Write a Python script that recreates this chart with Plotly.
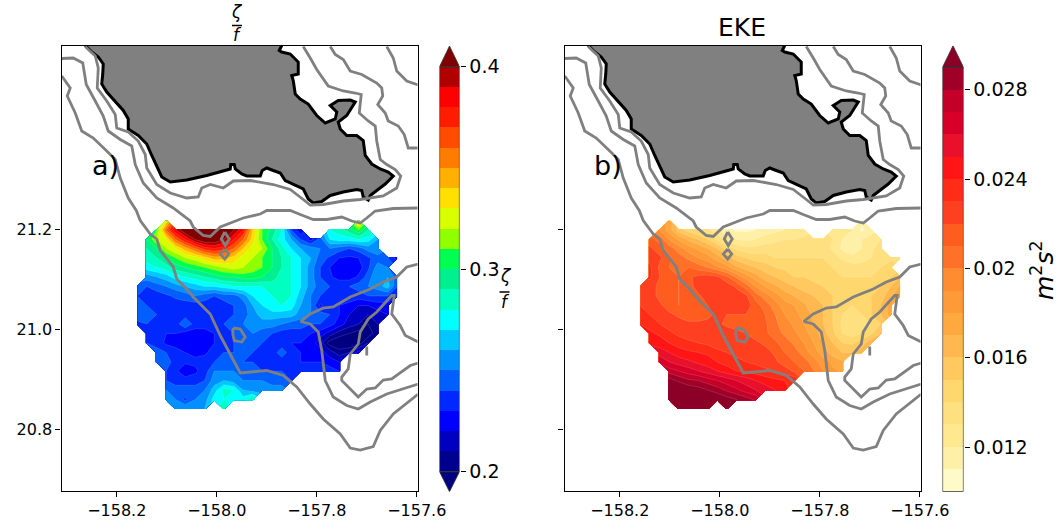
import plotly.graph_objects as go

W, H = 1060, 524

lon_grid = [-158.159,-158.140,-158.120,-158.101,-158.082,-158.063,-158.043,-158.024,-158.005,-157.986,
            -157.966,-157.947,-157.928,-157.909,-157.889,-157.870,-157.851,-157.832,-157.812,-157.793,
            -157.774,-157.755,-157.735,-157.716,-157.697,-157.678,-157.658,-157.639]
lat_grid = [21.218,21.199,21.180,21.162,21.143,21.124,21.105,21.086,21.067,21.048,21.030,
            21.011,20.992,20.973,20.954,20.935,20.917,20.898,20.879,20.860,20.841]
row_start = [3,2,1,1,1,1,1,0,0,0,0,0,1,1,2,2,3,3,3,3,4]

zeta_rows = [
 [.33]+[None]*19+[.345],
 [.31,.36,.39,.41,.42,.42,.42,.41,.40,.38,.34,.31,.295,.28,.24,.222,None,None,.28,.285,.295,.31,.29],
 [.30,.32,.33,.36,.38,.40,.41,.41,.40,.38,.36,.335,.31,.29,.275,.26,.24,.226,.245,.27,.275,.275,.28,.275,.26],
 [.29,.30,.32,.33,.345,.36,.375,.38,.375,.36,.34,.325,.32,.30,.285,.27,.26,.255,.25,.25,.245,.24,.245,.255,.26],
 [.285,.29,.30,.31,.32,.325,.335,.345,.345,.335,.325,.32,.31,.30,.29,.28,.27,.26,.245,.238,.23,.228,.23,.238,.245,.24,.225],
 [.275,.28,.285,.295,.30,.305,.31,.315,.32,.325,.32,.315,.31,.30,.29,.28,.27,.255,.24,.23,.225,.224,.225,.238,.255,.25],
 [.255,.26,.265,.275,.28,.285,.29,.295,.30,.30,.305,.305,.30,.295,.285,.28,.27,.255,.24,.232,.225,.225,.232,.245,.26,.26,.245],
 [.245,.24,.245,.25,.255,.26,.265,.27,.27,.275,.28,.28,.28,.28,.285,.285,.28,.27,.255,.245,.24,.24,.24,.245,.25,.255,.265,.24],
 [.24,.235,.235,.238,.242,.245,.25,.245,.24,.245,.245,.255,.27,.275,.28,.286,.28,.265,.25,.24,.24,.24,.24,.235,.24,.24,.24,.23],
 [.245,.24,.235,.232,.235,.235,.235,.235,.235,.235,.24,.245,.26,.27,.28,.28,.275,.26,.25,.228,.235,.23,.225,.22,.22,.225,.225],
 [.25,.245,.24,.235,.235,.235,.24,.235,.235,.24,.24,.245,.255,.265,.265,.265,.265,.255,.25,.245,.24,.23,.22,.215,.21,.215,.22],
 [.235,.24,.235,.235,.235,.25,.235,.235,.235,.24,.245,.25,.255,.255,.255,.25,.245,.245,.24,.24,.235,.225,.215,.21,.20,.21],
 [.235,.235,.23,.23,.225,.225,.225,.23,.235,.24,.245,.25,.245,.24,.235,.235,.235,.23,.225,.215,.205,.20,.195,.195,.205],
 [.24,.235,.228,.225,.225,.225,.222,.23,.235,.24,.245,.245,.24,.235,.235,.23,.23,.225,.215,.195,.19,.19,.195,.21],
 [.245,.24,.235,.23,.228,.228,.235,.24,.24,.245,.24,.235,.235,.245,.235,.23,.23,.225,.215,.205,.21,.225],
 [.25,.245,.235,.232,.232,.235,.24,.245,.245,.24,.24,.235,.235,.235,.235,.23,.23,.23,.225,.22],
 [.24,.232,.222,.228,.235,.25,.25,.25,.245,.245,.24,.24,.24,.24,.235,.235,.235,.235,.23],
 [.24,.235,.235,.235,.24,.255,.26,.255,.25,.25,.25,.245,.245,.24],
 [.25,.245,.245,.245,.25,.265,.283,.28,.26,.255,.255,.255,.255],
 [.26,.25,.238,.25,.255,.275,.28,.27,.275,.29],
 [.26,.26,.26,.26,None,.29],
]

eke_rows = [
 [.0175]+[None]*19+[.0112],
 [.019,.0175,.0155,.0145,.014,.0132,.0122,.0112,.0108,.0108,.011,.0113,.0117,.012,.0122,.0125,None,None,.0128,.0125,.012,.0108,.0115],
 [.0215,.0205,.019,.0178,.0168,.016,.015,.0138,.0125,.012,.0118,.012,.0125,.0127,.013,.013,.0132,.0135,.0135,.013,.012,.0118,.012,.0125,.013],
 [.0222,.0215,.0205,.0195,.0185,.0178,.017,.016,.0145,.0138,.0132,.0133,.0135,.0135,.0135,.0135,.0135,.0135,.0135,.0128,.0118,.0115,.012,.0128,.0135],
 [.0228,.0222,.0212,.0205,.0198,.019,.0185,.0175,.0165,.0155,.015,.0145,.0145,.014,.014,.014,.014,.014,.014,.0135,.0128,.0122,.0125,.013,.0135,.0138,.0135],
 [.0232,.0218,.021,.021,.021,.0205,.02,.0192,.0185,.0172,.0165,.016,.0155,.015,.0148,.0145,.0145,.0145,.0142,.014,.0138,.0135,.0135,.0135,.014,.0145],
 [.0232,.022,.0213,.021,.0218,.0223,.0225,.0222,.0212,.0198,.0185,.0175,.0165,.016,.0155,.015,.015,.0148,.0145,.0143,.014,.014,.014,.014,.0145,.015,.016],
 [.0228,.0225,.0217,.0213,.021,.0215,.0225,.0228,.0228,.0226,.0218,.0205,.019,.018,.0172,.0165,.016,.0155,.0152,.015,.0148,.0145,.0142,.0142,.0145,.015,.016,.0172],
 [.0228,.0225,.0217,.0213,.021,.0212,.0218,.0225,.0228,.0228,.0226,.0222,.0205,.0195,.0185,.0175,.017,.0165,.016,.0155,.015,.0148,.0145,.0145,.015,.0155,.0168,.0178],
 [.023,.0226,.0222,.0215,.021,.0212,.0215,.022,.0225,.0228,.0228,.0225,.0215,.0205,.0195,.0185,.018,.0172,.0165,.016,.015,.0142,.014,.0143,.015,.016,.0175],
 [.0235,.023,.0225,.0222,.0218,.0215,.0215,.0218,.0222,.022,.022,.022,.0215,.021,.02,.019,.0185,.0175,.0168,.016,.015,.014,.0135,.014,.015,.016,.0175],
 [.024,.0236,.023,.0226,.0224,.0222,.0222,.0222,.0222,.0218,.0217,.0215,.0215,.0212,.0202,.0195,.0188,.018,.017,.016,.015,.0138,.0132,.0135,.014,.015],
 [.0242,.0238,.0232,.0228,.0226,.0226,.0225,.0225,.0225,.0222,.022,.0215,.0212,.0205,.0198,.0192,.0185,.0175,.0165,.0152,.014,.0135,.014,.0148,.016],
 [.0248,.0245,.024,.0235,.0232,.023,.0228,.0226,.0226,.0226,.0225,.0222,.0218,.0212,.0205,.0198,.019,.018,.017,.016,.015,.0148,.0155,.0168],
 [.0255,.025,.0245,.0242,.024,.0238,.0232,.023,.0228,.0226,.0226,.0224,.0218,.021,.0205,.0195,.0185,.0175,.0165,.016,.016,.0165],
 [.0268,.026,.0255,.0252,.0248,.0245,.024,.0236,.0232,.023,.0228,.0226,.0222,.0215,.021,.0205,.0195,.0185,.0178,.0172],
 [.0275,.027,.0265,.026,.0255,.025,.0245,.024,.0238,.0235,.0232,.023,.0225,.0218,.021,.02,.019,.0182,.0178],
 [.0295,.0288,.0282,.028,.0275,.027,.0265,.026,.0255,.025,.0246,.0242,.024,.0238],
 [.0305,.0302,.0298,.0295,.029,.0285,.0278,.0272,.0265,.026,.0255,.025,.0245],
 [.031,.031,.0308,.0305,.0302,.03,.0295,.029,.0285,.0278],
 [.032,.032,.0315,.031,None,.031],
]

zeta_levels = [0.20,0.21,0.22,0.23,0.24,0.25,0.26,0.27,0.28,0.29,0.30,0.31,0.32,0.33,0.34,0.35,0.36,0.37,0.38,0.39,0.40]
eke_levels = [0.010,0.011,0.012,0.013,0.014,0.015,0.016,0.017,0.018,0.019,0.020,0.021,0.022,0.023,0.024,0.025,0.026,0.027,0.028,0.029]
zeta_under, zeta_over = "#000080", "#800000"
zeta_bands = ["#00008f","#0000c0","#0000ff","#0028ff","#0060ff","#0090ff","#00c8ff","#00ffff","#00ffc0","#00f090",
              "#00ff50","#90ff00","#d8ff00","#ffe000","#ffb000","#ff7c00","#ff4c00","#ff1c00","#ff0000","#b00000"]
eke_over = "#8c0028"
eke_bands = ["#fffac8","#fff0a8","#ffe890","#ffe080","#ffd76f","#ffc95f","#ffb84f","#ffa83f","#ff9a38","#ff8c30",
             "#ff7028","#ff5c20","#ff4020","#ff2c18","#ff1515","#e8102a","#d80028","#c40028","#a00028"]

land_lon = [-158.263,-158.250,-158.237,-158.227,-158.228,-158.230,-158.220,-158.203,-158.187,-158.177,-158.177,-158.157,-158.140,-158.130,-158.120,-158.110,-158.093,-158.060,-158.020,-157.980,-157.973,-157.972,-157.965,-157.963,-157.950,-157.940,-157.913,-157.909,-157.900,-157.887,-157.873,-157.863,-157.847,-157.827,-157.817,-157.807,-157.790,-157.773,-157.747,-157.720,-157.710,-157.707,-157.697,-157.693,-157.680,-157.663,-157.647,-157.657,-157.673,-157.690,-157.703,-157.707,-157.720,-157.740,-157.753,-157.757,-157.740,-157.723,-157.733,-157.757,-157.773,-157.760,-157.763,-157.783,-157.800,-157.817,-157.833,-157.843,-157.847,-157.850,-157.837,-157.837,-157.853,-157.870,-157.875,-157.870]
land_lat = [21.568,21.555,21.545,21.531,21.511,21.491,21.475,21.455,21.438,21.421,21.401,21.388,21.371,21.348,21.325,21.305,21.295,21.299,21.308,21.318,21.321,21.330,21.330,21.321,21.311,21.307,21.307,21.318,21.323,21.318,21.313,21.298,21.291,21.281,21.261,21.253,21.256,21.268,21.275,21.280,21.278,21.265,21.259,21.268,21.278,21.291,21.307,21.315,21.321,21.331,21.348,21.378,21.388,21.388,21.401,21.415,21.428,21.455,21.459,21.458,21.448,21.435,21.421,21.413,21.428,21.451,21.461,21.471,21.498,21.508,21.511,21.535,21.551,21.555,21.558,21.568]

line_a_lon = [-158.263,-158.243,-158.237,-158.239,-158.220,-158.203,-158.200,-158.177,-158.157,-158.143,-158.140,-158.120,-158.093,-158.060,-158.037,-158.030,-158.013,-157.987,-157.967,-157.933,-157.887,-157.853,-157.827,-157.813,-157.787,-157.747,-157.713,-157.667,-157.640,-157.632,-157.643,-157.660,-157.673,-157.680,-157.683,-157.697,-157.715,-157.711,-157.723,-157.747,-157.777,-157.800,-157.813,-157.827]
line_a_lat = [21.566,21.547,21.523,21.483,21.457,21.430,21.403,21.395,21.377,21.350,21.323,21.290,21.273,21.263,21.265,21.283,21.290,21.283,21.297,21.298,21.290,21.280,21.260,21.249,21.250,21.257,21.260,21.267,21.283,21.307,21.320,21.330,21.340,21.377,21.407,21.417,21.433,21.470,21.473,21.477,21.487,21.520,21.543,21.566]
line_b_lon = [-158.310,-158.287,-158.268,-158.261,-158.243,-158.227,-158.217,-158.193,-158.170,-158.163,-158.147,-158.120,-158.087,-158.053,-158.047,-158.027,-158.013,-157.993,-157.947,-157.913,-157.900,-157.860,-157.853,-157.833,-157.807,-157.780,-157.750,-157.730,-157.713,-157.700,-157.683,-157.647,-157.597]
line_b_lat = [21.542,21.543,21.533,21.490,21.457,21.427,21.397,21.380,21.367,21.330,21.293,21.263,21.243,21.217,21.205,21.188,21.186,21.205,21.223,21.231,21.238,21.238,21.238,21.230,21.220,21.220,21.225,21.217,21.213,21.223,21.237,21.242,21.243]
line_c_lon = [-158.310,-158.293,-158.299,-158.283,-158.270,-158.247,-158.220,-158.203,-158.193,-158.177,-158.161,-158.153,-158.133,-158.120,-158.113,-158.087,-158.080,-158.060,-158.047,-158.013,-157.993,-157.973,-157.953,-157.900,-157.867,-157.840,-157.813,-157.787,-157.753,-157.733,-157.713,-157.687,-157.673,-157.647,-157.597]
line_c_lat = [21.507,21.483,21.467,21.433,21.397,21.383,21.357,21.340,21.303,21.263,21.238,21.218,21.191,21.181,21.158,21.125,21.101,21.081,21.065,21.031,20.988,20.951,20.913,20.918,20.908,20.885,20.851,20.821,20.791,20.763,20.759,20.766,20.798,20.831,20.871]
line_d_lon = [-157.773,-157.763,-157.747,-157.733,-157.710,-157.680,-157.670,-157.668,-157.678,-157.663,-157.657,-157.637,-157.625,-157.617,-157.597]
line_d_lat = [21.566,21.550,21.540,21.517,21.510,21.493,21.483,21.467,21.450,21.433,21.417,21.407,21.390,21.363,21.363]
line_e_lon = [-157.660,-157.647,-157.640,-157.620,-157.597]
line_e_lat = [21.566,21.543,21.517,21.497,21.489]
line_f_lon = [-157.597,-157.620,-157.640,-157.667,-157.693,-157.733,-157.767,-157.787,-157.813,-157.832,-157.813,-157.797,-157.790,-157.783,-157.767,-157.740,-157.717,-157.693,-157.660,-157.597]
line_f_lat = [21.131,21.125,21.105,21.095,21.081,21.065,21.045,21.043,21.031,21.016,21.011,20.995,20.958,20.898,20.865,20.848,20.841,20.855,20.871,20.891]
line_g_lon = [-157.597,-157.623,-157.633,-157.650,-157.645,-157.650,-157.680,-157.697,-157.713,-157.717,-157.733,-157.737,-157.750,-157.750,-157.717,-157.700,-157.683,-157.667,-157.650,-157.613,-157.597]
line_g_lat = [20.975,20.988,21.008,21.031,21.068,21.068,21.035,21.021,20.995,20.971,20.951,20.921,20.905,20.898,20.865,20.881,20.883,20.899,20.901,20.928,20.933]
line_h_lon = [-157.700,-157.700]
line_h_lat = [20.966,20.948]
loop_1_lon = [-157.984,-157.975,-157.983,-157.991,-157.984]
loop_1_lat = [21.195,21.181,21.168,21.181,21.195]
loop_2_lon = [-157.984,-157.976,-157.984,-157.993,-157.984]
loop_2_lat = [21.161,21.151,21.141,21.151,21.161]
loop_3_lon = [-157.967,-157.953,-157.943,-157.950,-157.965,-157.968,-157.967]
loop_3_lat = [21.003,21.001,20.985,20.975,20.978,20.991,21.003]

gray_lines = [(line_a_lon,line_a_lat),(line_b_lon,line_b_lat),(line_c_lon,line_c_lat),(line_d_lon,line_d_lat),
              (line_e_lon,line_e_lat),(line_f_lon,line_f_lat),(line_g_lon,line_g_lat),(line_h_lon,line_h_lat),
              (loop_1_lon,loop_1_lat),(loop_2_lon,loop_2_lat),(loop_3_lon,loop_3_lat)]

lon_range = [-158.3105, -157.5985]
lat_range = [20.677, 21.567]
lon_ticks = [-158.2, -158.0, -157.8, -157.6]
lat_ticks = [20.8, 21.0, 21.2]
zeta_cb_ticks = [0.2, 0.3, 0.4]
zeta_cb_labels = ["0.2", "0.3", "0.4"]
eke_cb_ticks = [0.012, 0.016, 0.02, 0.024, 0.028]
eke_cb_labels = ["0.012", "0.016", "0.02", "0.024", "0.028"]
FONT = "DejaVu Sans"


def to_grid(rows):
    out = []
    for start, row in zip(row_start, rows):
        full = [None]*start + list(row)
        out.append(full + [None]*(len(lon_grid)-len(full)))
    return out


def stepped(colors):
    n = len(colors)
    s = []
    for i, c in enumerate(colors):
        s += [[i/n, c], [(i+1)/n, c]]
    return s


fig = go.Figure()


def add_panel(z, colors, levels, xa, ya):
    fig.add_trace(go.Contour(
        x=lon_grid, y=lat_grid, z=to_grid(z), xaxis=xa, yaxis=ya, showscale=False,
        autocontour=False,
        contours=dict(start=levels[0], end=levels[-1], size=round(levels[1]-levels[0], 6), coloring="fill", showlines=True),
        line=dict(width=0.4, color="rgba(255,255,255,0.35)", smoothing=0),
        colorscale=stepped(colors), connectgaps=False, hoverinfo="skip",
    ))
    fig.add_trace(go.Scatter(x=land_lon, y=land_lat, mode="lines", fill="toself", fillcolor="#808080",
                             line=dict(color="black", width=3), xaxis=xa, yaxis=ya, showlegend=False, hoverinfo="skip"))
    for lx, ly in gray_lines:
        fig.add_trace(go.Scatter(x=lx, y=ly, mode="lines", line=dict(color="#808080", width=2.8),
                                 xaxis=xa, yaxis=ya, showlegend=False, hoverinfo="skip"))


def add_colorbar(levels, bands, over, under, ymin, ymax, xa, ya):
    fig.add_trace(go.Heatmap(x=[0, 1], y=levels, z=[[i] for i in range(len(bands))], zmin=0, zmax=len(bands)-1,
                             colorscale=stepped(bands), showscale=False, xaxis=xa, yaxis=ya, hoverinfo="skip"))
    lo, hi = levels[0], levels[-1]
    fig.add_trace(go.Scatter(x=[0, 0.5, 1, 0], y=[hi, ymax, hi, hi], mode="lines", fill="toself", fillcolor=over,
                             line=dict(color="#333", width=0.8), xaxis=xa, yaxis=ya, hoverinfo="skip"))
    if under:
        fig.add_trace(go.Scatter(x=[0, 0.5, 1, 0], y=[lo, ymin, lo, lo], mode="lines", fill="toself", fillcolor=under,
                                 line=dict(color="#333", width=0.8), xaxis=xa, yaxis=ya, hoverinfo="skip"))
    fig.add_trace(go.Scatter(x=[0, 0, 1, 1, 0], y=[hi, lo, lo, hi, hi], mode="lines",
                             line=dict(color="#333", width=1.2), xaxis=xa, yaxis=ya, hoverinfo="skip"))


add_panel(zeta_rows, [zeta_under]+zeta_bands+[zeta_over], zeta_levels, "x", "y")
add_panel(eke_rows, [eke_bands[0]]+eke_bands+[eke_over], eke_levels, "x2", "y2")
add_colorbar(zeta_levels, zeta_bands, zeta_over, zeta_under, 0.1901, 0.4102, "x3", "y3")
add_colorbar(eke_levels, eke_bands, eke_over, None, 0.01, 0.02997, "x4", "y4")

ax_common = dict(range=lon_range, tickvals=lon_ticks, ticks="outside", ticklen=5, tickwidth=1.2, tickcolor="black",
                 showgrid=False, zeroline=False, showline=True, mirror=True, linecolor="black", linewidth=1.2,
                 tickfont=dict(family=FONT, size=16, color="black"), tickformat=".1f")
ay_common = dict(range=lat_range, tickvals=lat_ticks, ticks="outside", ticklen=5, tickwidth=1.2, tickcolor="black",
                 showgrid=False, zeroline=False, showline=True, mirror=True, linecolor="black", linewidth=1.2,
                 tickfont=dict(family=FONT, size=16, color="black"), tickformat=".1f")
cbx = dict(range=[0, 1], visible=False, fixedrange=True)
cby = dict(side="right", ticks="outside", ticklen=5, tickwidth=1.2, tickcolor="black", showgrid=False, zeroline=False,
           showline=False, tickfont=dict(family=FONT, size=19, color="black"), fixedrange=True)


def ann(px, py, text, size, **kw):
    return dict(x=px/W, y=1-py/H, xref="paper", yref="paper", text=text, showarrow=False, xanchor="center", yanchor="middle",
                font=dict(family=FONT, size=size, color="black"), **kw)


annotations = [
    ann(105, 166, "a)", 27), ann(608, 166, "b)", 27),
    ann(742, 27, "EKE", 25),
    ann(237, 12, "<i>ζ</i>", 17), ann(237, 35, "<i>f</i>", 17),
    ann(505.5, 276, "<i>ζ</i>", 17), ann(505.5, 302, "<i>f</i>", 17),
    ann(1042, 270, "<i>m</i><sup>2</sup><i>s</i><sup>2</sup>", 25, textangle=-90),
]


def frac_bar(px0, px1, py):
    return dict(type="line", xref="paper", yref="paper", x0=px0/W, x1=px1/W, y0=1-py/H, y1=1-py/H, line=dict(color="black", width=1.5))


shapes = [frac_bar(232, 242, 25.5), frac_bar(499.5, 509.5, 292)]

fig.update_layout(
    width=W, height=H, autosize=False, showlegend=False,
    margin=dict(l=0, r=0, t=0, b=0, autoexpand=False), paper_bgcolor="white", plot_bgcolor="white",
    font=dict(family=FONT, color="black"),
    xaxis=dict(domain=[61.5/W, 417.5/W], anchor="y", **ax_common),
    yaxis=dict(domain=[1-491/H, 1-46/H], anchor="x", **ay_common),
    xaxis2=dict(domain=[564.5/W, 920.5/W], anchor="y2", **ax_common),
    yaxis2=dict(domain=[1-491/H, 1-46/H], anchor="x2", showticklabels=False, **ay_common),
    xaxis3=dict(domain=[439.5/W, 459.5/W], anchor="y3", **cbx),
    yaxis3=dict(domain=[1-491.7/H, 1-46/H], anchor="x3", range=[0.1901, 0.4102], tickvals=zeta_cb_ticks, ticktext=zeta_cb_labels, **cby),
    xaxis4=dict(domain=[942.5/W, 963.5/W], anchor="y4", **cbx),
    yaxis4=dict(domain=[1-491.7/H, 1-45.7/H], anchor="x4", range=[0.01, 0.02997], tickvals=eke_cb_ticks, ticktext=eke_cb_labels, **cby),
    annotations=annotations, shapes=shapes,
)

fig.write_html("out.html", config={"displayModeBar": False}, post_script="document.body.style.margin='0';")
